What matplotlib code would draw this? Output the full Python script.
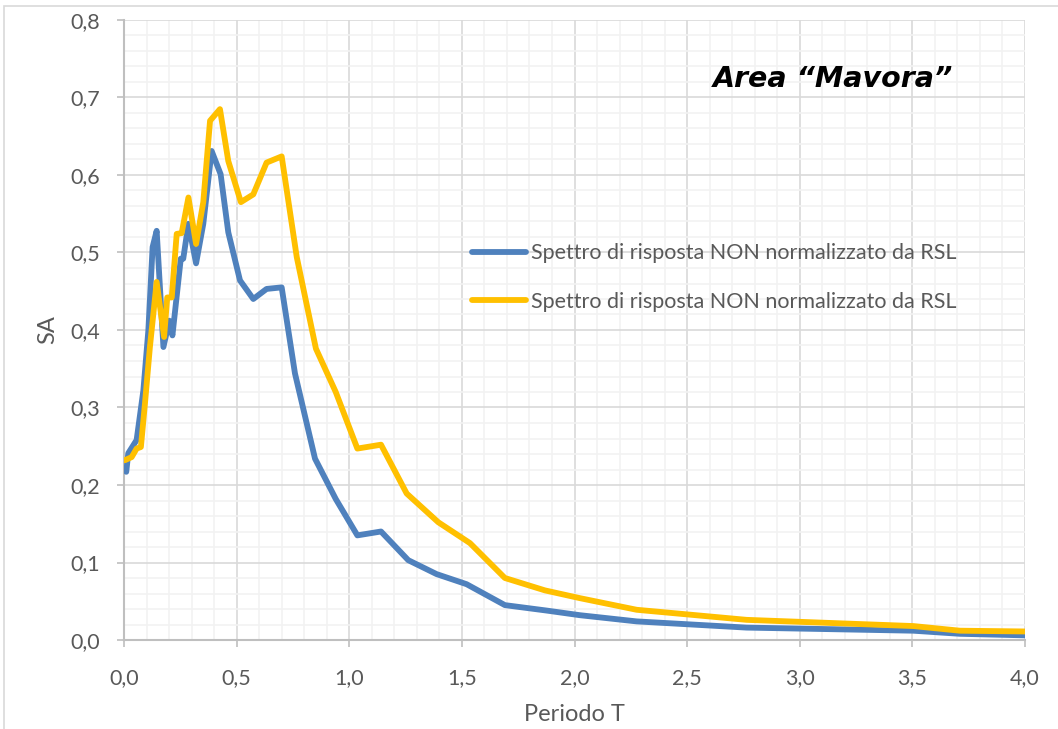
import matplotlib
matplotlib.use('Agg')
import matplotlib.pyplot as plt
from matplotlib.ticker import MultipleLocator, FuncFormatter
from matplotlib.patches import Rectangle

# periods (s) and spectral acceleration values
t_blue = [0.01, 0.019, 0.056, 0.086, 0.108, 0.127, 0.145, 0.175, 0.201, 0.215,
          0.252, 0.263, 0.286, 0.320, 0.352, 0.389, 0.429, 0.463, 0.515, 0.574,
          0.633, 0.700, 0.759, 0.848, 0.94, 1.036, 1.141, 1.262, 1.388, 1.521,
          1.691, 1.876, 2.024, 2.276, 2.764, 3.504, 3.711, 4.0]
sa_blue = [0.217, 0.241, 0.258, 0.322, 0.399, 0.507, 0.528, 0.378, 0.412, 0.393,
           0.492, 0.492, 0.537, 0.486, 0.537, 0.631, 0.601, 0.526, 0.464, 0.440,
           0.453, 0.455, 0.344, 0.234, 0.182, 0.135, 0.140, 0.103, 0.085, 0.072,
           0.045, 0.038, 0.032, 0.024, 0.016, 0.012, 0.008, 0.006]

t_yellow = [0.004, 0.034, 0.056, 0.075, 0.093, 0.115, 0.145, 0.178, 0.192, 0.212,
            0.234, 0.256, 0.286, 0.320, 0.352, 0.382, 0.426, 0.463, 0.519, 0.574,
            0.633, 0.700, 0.767, 0.852, 0.94, 1.036, 1.141, 1.255, 1.395, 1.536,
            1.691, 1.869, 2.024, 2.276, 2.764, 3.504, 3.711, 4.0]
sa_yellow = [0.232, 0.236, 0.247, 0.249, 0.305, 0.378, 0.462, 0.391, 0.442, 0.442,
             0.524, 0.525, 0.571, 0.511, 0.565, 0.670, 0.685, 0.618, 0.565, 0.575,
             0.616, 0.624, 0.494, 0.376, 0.320, 0.247, 0.252, 0.189, 0.152, 0.125,
             0.080, 0.064, 0.054, 0.039, 0.026, 0.018, 0.012, 0.011]

labels = ['Spettro di risposta NON normalizzato da RSL',
          'Spettro di risposta NON normalizzato da RSL']

BLUE = '#4F81BD'
YELLOW = '#FFC000'
TXT = '#595959'
FONT = 'Lato'

fig = plt.figure(figsize=(10.58, 7.29), dpi=100, facecolor='white')
ax = fig.add_axes([124 / 1058, 89 / 729, 901 / 1058, 620 / 729])

# chart area border
fig.patches.append(Rectangle((4 / 1058, -0.01), 1.1, (729 - 6) / 729 + 0.01,
                             transform=fig.transFigure, fill=False,
                             edgecolor='#D9D9D9', linewidth=1.2))

ax.plot(t_blue, sa_blue, color=BLUE, lw=4.2, solid_joinstyle='round',
        solid_capstyle='round', label=labels[0], zorder=3)
ax.plot(t_yellow, sa_yellow, color=YELLOW, lw=4.2, solid_joinstyle='round',
        solid_capstyle='round', label=labels[1], zorder=4)

ax.set_xlim(0, 4.0)
ax.set_ylim(0, 0.8)
ax.xaxis.set_major_locator(MultipleLocator(0.5))
ax.xaxis.set_minor_locator(MultipleLocator(0.1))
ax.yaxis.set_major_locator(MultipleLocator(0.1))
ax.yaxis.set_minor_locator(MultipleLocator(0.02))
fmt = FuncFormatter(lambda v, p: f'{v:.1f}'.replace('.', ','))
ax.xaxis.set_major_formatter(fmt)
ax.yaxis.set_major_formatter(fmt)

ax.grid(which='major', color='#D9D9D9', lw=1.2)
ax.grid(which='minor', color='#F2F2F2', lw=1.2)
ax.set_axisbelow(True)

for s in ['top', 'right']:
    ax.spines[s].set_visible(False)
for s in ['left', 'bottom']:
    ax.spines[s].set_color('#BFBFBF')
    ax.spines[s].set_linewidth(1.5)

ax.tick_params(which='major', length=5, width=1.2, color='#BFBFBF',
               labelsize=15.5, labelcolor=TXT)
ax.tick_params(axis='x', pad=15)
ax.tick_params(axis='y', pad=12)
ax.tick_params(which='minor', length=0)
for lab in ax.get_xticklabels() + ax.get_yticklabels():
    lab.set_fontfamily(FONT)

ax.set_xlabel('Periodo T', fontsize=17, color=TXT, family=FONT, labelpad=12)
ax.set_ylabel('SA', fontsize=17, color=TXT, family=FONT, labelpad=9)

ax.text(0.92, 0.905, 'Area \u201cMavora\u201d', transform=ax.transAxes,
        ha='right', va='center', fontsize=20.5, fontweight='bold',
        fontstyle='italic', color='black', family='DejaVu Sans')

leg = ax.legend(loc='upper left', bbox_to_anchor=(0.386, 0.640),
                frameon=False, borderpad=0, borderaxespad=0,
                handlelength=2.5, handletextpad=0.25, labelspacing=1.33,
                prop={'family': FONT, 'size': 15.5})
for txt in leg.get_texts():
    txt.set_color(TXT)

fig.savefig('out.png', dpi=100, facecolor='white')
